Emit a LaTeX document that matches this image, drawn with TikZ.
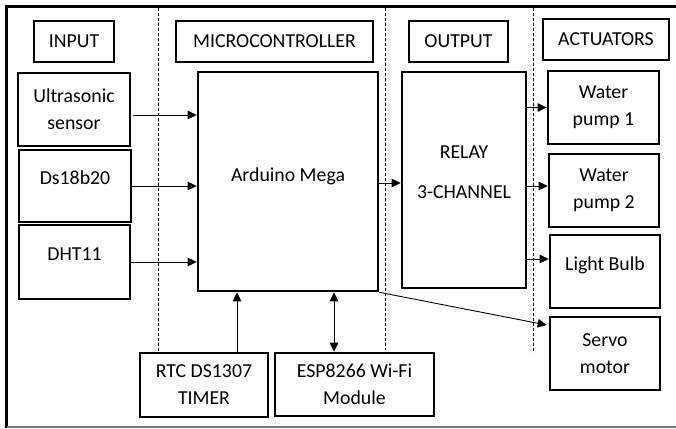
\documentclass[tikz,border=0pt]{standalone}
\usepackage{fontspec}
\setmainfont{Carlito}
\usepackage{tikz}
\usetikzlibrary{arrows.meta, positioning}
\tikzset{hbox/.style = {draw, line width=1.2pt, inner sep=0pt, align=center},
	blk/.style = {draw, line width=2.6pt, inner sep=0pt, align=center},
	upper/.style = {text depth=16pt},
	arr/.style = {draw, line width=0.9pt, -{Triangle[length=9pt,width=8.5pt]}},
	darr/.style = {draw, line width=0.9pt, {Triangle[length=9pt,width=8.5pt]}-{Triangle[length=9pt,width=8.5pt]}},
	sep/.style = {draw, line width=0.9pt, dash pattern=on 3pt off 2pt}}

\begin{document}
\begin{tikzpicture}[x=1pt, y=-1pt, font=\fontsize{19.8}{27}\selectfont]
			\useasboundingbox (0,0) rectangle (676,428);
			% frame
			\draw [line width=3pt] (6.5,428) -- (6.5,6.5) -- (676,6.5);
			\draw [gray, line width=1.2pt] (6.5,427) -- (676,427);
			% column separators
			\path [sep] (158,8) -- (158,352);
			\path [sep] (385,8) -- (385,350);
			\path [sep] (533,8) -- (533,353);
			
			% headers
			\node [hbox, minimum width=80, minimum height=41] (hin) at (74,41.5) {INPUT};
			\node [hbox, minimum width=197, minimum height=41] (hmc) at (274.5,41.5) {MICROCONTROLLER};
			\node [hbox, minimum width=99, minimum height=41] (hout) at (458.5,41.5) {OUTPUT};
			\node [hbox, minimum width=126, minimum height=41] (hact) at (606,39.5) {ACTUATORS};
			
			% inputs
			\node [blk, minimum width=112, minimum height=73] (us) at (74,109.5) {Ultrasonic\\sensor};
			\node [blk, upper, minimum width=112, minimum height=72] (ds) at (75,186) {Ds18b20};
			\node [blk, upper, minimum width=111, minimum height=74] (dht) at (74.5,262) {DHT11};
			
			% controller and relay
			\node [blk, text depth=14pt, minimum width=180, minimum height=219] (ard) at (288,181.5) {Arduino Mega};
			\node [blk, text depth=16pt, minimum width=124, minimum height=216] (relay) at (464,180) {RELAY\\[13pt]3-CHANNEL};
			
			% actuators
			\node [blk, minimum width=111, minimum height=73] (wp1) at (603.5,107.5) {Water\\pump 1};
			\node [blk, minimum width=110, minimum height=73] (wp2) at (604,190.5) {Water\\pump 2};
			\node [blk, upper, minimum width=110, minimum height=73] (bulb) at (605,271.5) {Light Bulb};
			\node [blk, minimum width=110, minimum height=73] (servo) at (605,353.5) {Servo\\motor};
			
			% bottom modules
			\node [blk, minimum width=128, minimum height=64] (rtc) at (204,385) {RTC DS1307\\TIMER};
			\node [blk, minimum width=159, minimum height=63] (esp) at (354.5,384.5) {ESP8266 Wi-Fi\\Module};
			
			\path [arr] ([xshift=2pt, yshift=-5.5pt]us.east) -- ([yshift=-5.5pt]us.east -| ard.west);
			\path [arr] (ds.east) -- (ds.east -| ard.west);
			\path [arr] (dht.east) -- (dht.east -| ard.west);
			\path [arr] ([yshift=-1.5pt]ard.east) -- ([yshift=-1.5pt]ard.east -| relay.west);
			\path [arr] (wp1.west -| relay.east) -- (wp1.west);
			\path [arr] ([yshift=4.5pt]wp2.west -| relay.east) -- ([yshift=4.5pt]wp2.west);
			\path [arr] ([yshift=12.5pt]bulb.west -| relay.east) -- ([yshift=12.5pt]bulb.west);
			\path [arr] (ard.south east) -- ([xshift=-2pt, yshift=28.5pt]servo.west);
			\path [arr] ([xshift=33pt]rtc.north) -- ([xshift=33pt]rtc.north |- ard.south);
			\path [darr] ([xshift=-20.5pt]esp.north) -- ([xshift=-20.5pt]esp.north |- ard.south);
		\end{tikzpicture}
\end{document}
